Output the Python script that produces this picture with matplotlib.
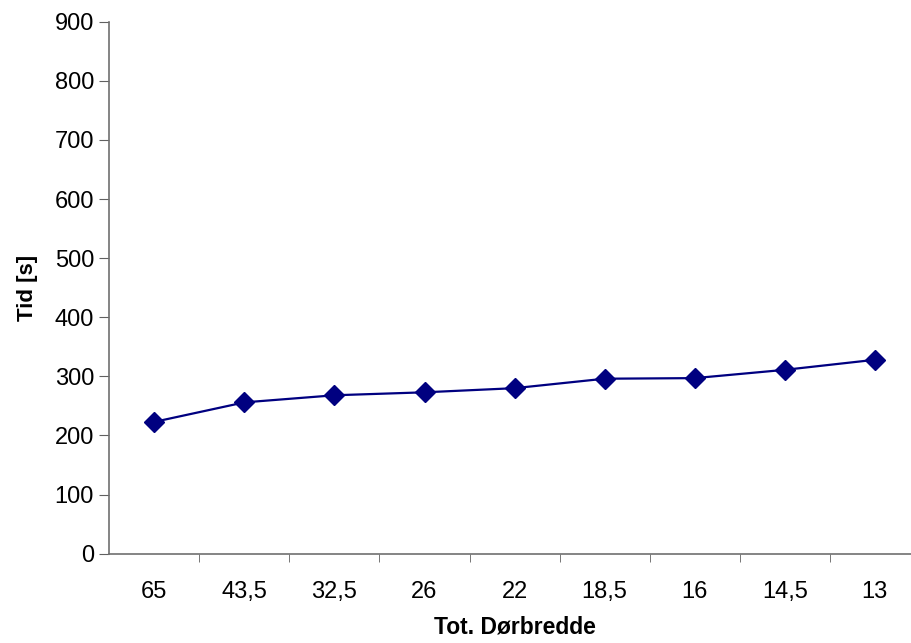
import matplotlib
matplotlib.use("Agg")
import matplotlib.pyplot as plt

# door width categories and evacuation time
categories = ["65", "43,5", "32,5", "26", "22", "18,5", "16", "14,5", "13"]
tid = [223, 256, 268, 273, 280, 296, 297, 311, 328]

plt.rcParams["font.family"] = ["Liberation Sans", "DejaVu Sans"]

fig = plt.figure(figsize=(9.11, 6.43), dpi=100)
ax = fig.add_axes([0.12, 0.1389, 0.8897, 0.8274])

x = list(range(len(categories)))
ax.plot(x, tid, color="#000080", lw=1.6, marker="D", markersize=10,
        markerfacecolor="#000080", markeredgecolor="#000080")

ax.set_xlim(-0.5, len(categories) - 0.5)
ax.set_ylim(0, 900)
ax.set_yticks(range(0, 901, 100))
ax.set_xticks(x)
ax.set_xticklabels(categories)
ax.set_xticks([i + 0.5 for i in x[:-1]], minor=True)
ax.tick_params(axis="x", which="major", length=0, pad=20, labelsize=17)
ax.tick_params(axis="x", which="minor", length=6, color="#606060")
ax.tick_params(axis="y", length=7, color="#606060", labelsize=17, pad=4)

for s in ["top", "right"]:
    ax.spines[s].set_visible(False)
for s in ["left", "bottom"]:
    ax.spines[s].set_color("#707070")
    ax.spines[s].set_linewidth(1.2)
ax.spines["bottom"].set_clip_on(False)

ax.set_xlabel("Tot. Dørbredde", fontsize=16.5, fontweight="bold", labelpad=9)
ax.set_ylabel("Tid [s]", fontsize=16, fontweight="bold", labelpad=12)

fig.savefig("out.png", dpi=100)
